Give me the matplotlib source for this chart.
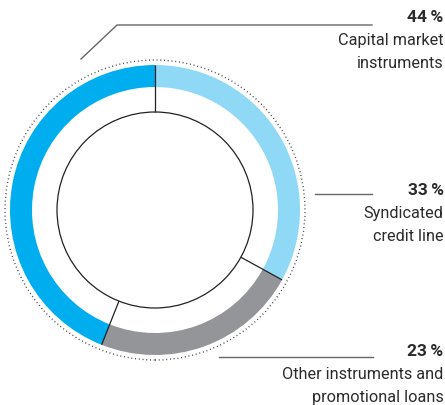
import numpy as np
import matplotlib
matplotlib.use("Agg")
import matplotlib.pyplot as plt
from matplotlib.patches import Circle

# Financing structure shares (clockwise from 12 o'clock)
categories = ["Syndicated\ncredit line",
              "Other instruments and\npromotional loans",
              "Capital market\ninstruments"]
shares = [33, 23, 44]
colors = ["#8fd8f6", "#939598", "#00aeef"]

W, H = 445, 406
fig = plt.figure(figsize=(W / 100, H / 100), dpi=100)
ax = fig.add_axes([0, 0, 1, 1])

cx, cy = 155, H - 211
r_out, ring_w = 145, 22
r_inner_circle = 98
r_dots = 150

ax.pie(shares, colors=colors, startangle=90, counterclock=False,
       radius=r_out, center=(cx, cy),
       wedgeprops=dict(width=ring_w, linewidth=0))

# inner thin circle and outer dotted circle
ax.add_patch(Circle((cx, cy), r_inner_circle, fill=False, ec="#222222", lw=0.9))
ax.add_patch(Circle((cx, cy), r_dots, fill=False, ec="#444444", lw=1.0,
                    linestyle=(0, (0.7, 2.0))))

# separators at each segment boundary
cum = np.concatenate([[0], np.cumsum(shares)[:-1]])
for c in cum:
    ang = np.deg2rad(90 - 360 * c / sum(shares))
    ax.plot([cx + r_inner_circle * np.cos(ang), cx + r_out * np.cos(ang)],
            [cy + r_inner_circle * np.sin(ang), cy + r_out * np.sin(ang)],
            color="#222222", lw=0.9, solid_capstyle="butt")

# leader lines
lead = "#666666"
ax.plot([81, 117, 372], [H - 60, H - 26, H - 26], color=lead, lw=1.0)
ax.plot([315, 372], [H - 195, H - 195], color=lead, lw=1.0)
ax.plot([219, 373], [H - 358, H - 358], color=lead, lw=1.0)

# labels
font = ["Roboto", "DejaVu Sans"]
tc = "#2b2b2b"
label_y = {"Capital market\ninstruments": 18,
           "Syndicated\ncredit line": 191,
           "Other instruments and\npromotional loans": 352}
for cat, val in zip(categories, shares):
    y0 = label_y[cat]
    ax.text(443.5, H - y0, f"{val}\u2009%", ha="right", va="center",
            fontsize=12.5, fontweight="bold", color=tc, family=font)
    for i, line in enumerate(cat.split("\n")):
        ax.text(443.5, H - (y0 + 23 + 22.5 * i), line, ha="right", va="center",
                fontsize=11.7, color=tc, family=font)

ax.set_xlim(0, W)
ax.set_ylim(0, H)
ax.set_aspect("auto")
ax.axis("off")
fig.savefig("out.png", dpi=100)
